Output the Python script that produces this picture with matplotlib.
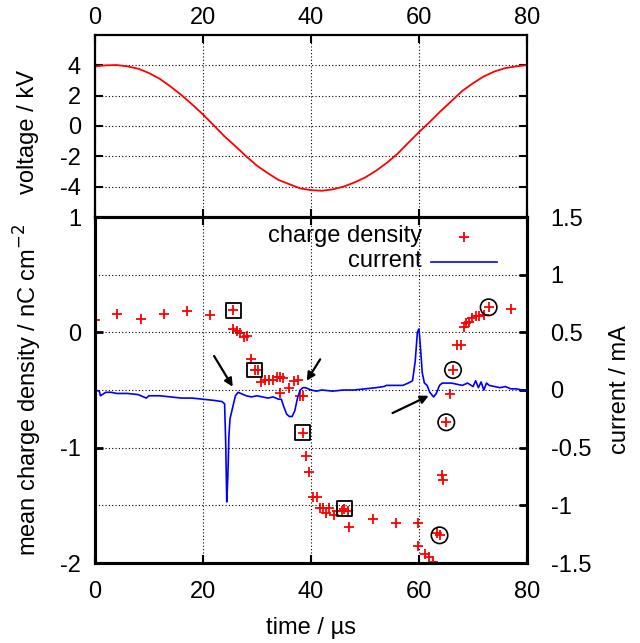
import matplotlib
matplotlib.use("Agg")
import matplotlib.pyplot as plt
from matplotlib.lines import Line2D

plt.rcParams['font.family'] = ['Liberation Sans', 'DejaVu Sans']
plt.rcParams['axes.unicode_minus'] = False
FS = 17

# ---------------- data ----------------
volt_t = [0, 2, 4, 6, 8, 10, 12, 14, 16, 18, 20, 22, 24, 26, 28, 30, 32, 34, 36, 38, 40,
          42, 44, 46, 48, 50, 52, 54, 56, 58, 60, 62, 64, 66, 68, 70, 72, 74, 76, 78, 80]
volt_v = [3.93, 4.00, 4.02, 3.93, 3.78, 3.49, 3.11, 2.60, 2.04, 1.42, 0.76, 0.04, -0.69,
          -1.33, -2.00, -2.62, -3.11, -3.56, -3.84, -4.11, -4.23,
          -4.27, -4.18, -4.00, -3.73, -3.40, -2.96, -2.44, -1.84, -1.11, -0.40, 0.27, 0.98,
          1.64, 2.31, 2.82, 3.27, 3.60, 3.82, 3.93, 4.02]

cur_t = [0, 0.8, 1.0, 2, 3, 4, 6, 8, 9.5, 10, 12, 14, 16, 18, 20, 22, 23.5, 24.0, 24.2, 24.4,
         24.6, 24.8, 25.0, 25.5, 26.0, 26.5, 27, 28, 29, 30, 31, 32, 33, 34, 34.5, 35, 35.5,
         36, 36.5, 37, 37.5, 38, 38.5, 39, 40, 41, 42, 44, 46, 48, 50, 52, 53.5, 54, 56, 57,
         58, 58.8, 59.3, 59.7, 60.0, 60.3, 60.6, 61.0, 61.5, 62.0, 62.7, 63.2, 63.8, 64.3,
         65, 66, 67, 68, 69, 70, 70.5, 71, 71.5, 72, 72.5, 73, 74, 75, 76, 77, 78, 79, 80]
cur_i = [0.00, -0.01, -0.05, -0.02, -0.02, -0.03, -0.03, -0.04, -0.07, -0.05, -0.05, -0.06,
         -0.07, -0.07, -0.08, -0.09, -0.10, -0.12, -0.45, -0.97,
         -0.75, -0.40, -0.25, -0.15, -0.05, -0.02, -0.03, -0.05, -0.06, -0.05, -0.06, -0.07,
         -0.06, -0.08, -0.08, -0.15, -0.21,
         -0.23, -0.23, -0.18, -0.07, 0.00, 0.02, 0.02, 0.00, -0.01, 0.00, -0.01, 0.00, 0.00,
         0.01, 0.02, 0.03, 0.04, 0.04, 0.04,
         0.06, 0.08, 0.25, 0.50, 0.53, 0.35, 0.15, 0.06, 0.04, -0.02, -0.06, -0.03, 0.04, 0.06,
         0.06, 0.06, 0.05, 0.04, 0.06, 0.03, 0.08, 0.02, 0.07, 0.00, 0.06, 0.04, 0.03, 0.02,
         0.03, 0.01, 0.01, 0.00, -0.01]

q_t = [0.0, 4.1, 8.5, 12.8, 17.0, 21.3, 25.6, 25.6, 26.3, 26.9, 27.6, 28.1, 28.9, 29.7, 30.1,
       30.8, 31.5, 32.2, 32.9, 33.7, 34.3, 34.9, 34.2, 36.0, 36.8, 37.5, 37.9, 38.5, 38.5,
       39.1, 39.7, 40.4, 41.1, 41.7, 42.3, 42.8, 43.4, 44.2, 44.9, 45.7, 46.2, 46.9, 47.1,
       51.4, 55.7, 59.9, 59.9, 61.2, 61.8, 62.5, 63.3, 63.9, 64.3, 64.5, 65.0, 65.7, 66.3,
       67.0, 67.8, 68.3, 68.7, 69.2, 69.8, 70.6, 71.2, 72.0, 72.9, 77.0]
q_v = [0.107, 0.156, 0.113, 0.156, 0.185, 0.15, 0.193, 0.03, 0.01, -0.01, -0.04, -0.03, -0.23,
       -0.33, -0.33, -0.43, -0.41, -0.41, -0.41, -0.39, -0.385, -0.40, -0.53, -0.48, -0.42,
       -0.41, -0.55, -0.55, -0.87, -1.07, -1.21, -1.43, -1.43, -1.52, -1.52, -1.57, -1.52,
       -1.58, -1.55, -1.55, -1.53, -1.55, -1.69, -1.62, -1.65, -1.65, -1.85, -1.92, -1.95,
       -1.99, -1.74, -1.76, -1.24, -1.28, -0.78, -0.535, -0.33, -0.11, -0.11, 0.05, 0.08,
       0.09, 0.12, 0.14, 0.145, 0.15, 0.22, 0.20]

box_t = [25.6, 29.5, 38.5, 46.2]
box_q = [0.193, -0.327, -0.867, -1.527]
circ_t = [72.9, 66.3, 65.05, 63.8]
circ_q = [0.217, -0.327, -0.78, -1.76]

arrow_start = [(22.05, -0.205), (41.7, -0.234), (55.1, -0.70)]
arrow_end = [(25.5, -0.472), (39.2, -0.42), (61.8, -0.55)]

x_ticks = [0, 20, 40, 60, 80]
v_ticks = [-4, -2, 0, 2, 4]
q_ticks = [1, 0, -1, -2]
i_ticks = [-1.5, -1, -0.5, 0, 0.5, 1, 1.5]
i_labels = ['-1.5', '-1', '-0.5', '0', '0.5', '1', '1.5']

# ---------------- figure ----------------
W, H = 640, 643
fig = plt.figure(figsize=(W / 100, H / 100), dpi=100)

def rect(l, t, r, b):
    return [l / W, 1 - b / H, (r - l) / W, (b - t) / H]

ax_v = fig.add_axes(rect(95, 35, 527, 217))
ax_q = fig.add_axes(rect(95, 217, 527, 563))
ax_i = ax_q.twinx()

grid_kw = dict(color='black', linestyle=(0, (1, 2)), linewidth=0.8)

# voltage panel
ax_v.plot(volt_t, volt_v, color='#ff0000', lw=1.3)
ax_v.set_xlim(0, 80)
ax_v.set_ylim(-6, 6)
ax_v.set_xticks(x_ticks)
ax_v.set_yticks(v_ticks)
ax_v.grid(True, **grid_kw)
ax_v.xaxis.tick_top()
ax_v.tick_params(axis='x', which='both', direction='in', top=True, bottom=True,
                 labeltop=True, labelbottom=False, length=6, width=1.5, labelsize=FS, pad=4)
ax_v.tick_params(axis='y', direction='in', left=True, right=True, length=6, width=1.5,
                 labelsize=FS, pad=10)
for s in ax_v.spines.values():
    s.set_linewidth(1.6)
ax_v.spines['bottom'].set_linewidth(2.2)

# lower panel: charge density (left)
ax_q.set_xlim(0, 80)
ax_q.set_ylim(-2, 1)
ax_q.set_xticks(x_ticks)
ax_q.set_yticks(q_ticks)
ax_q.xaxis.grid(True, **grid_kw)
ax_q.scatter(q_t, q_v, marker='+', color='#ff0000', s=45, linewidths=1.3, zorder=3)
ax_q.scatter(box_t, box_q, marker='s', facecolors='none', edgecolors='black', s=115,
             linewidths=1.3, zorder=4)
ax_q.scatter(circ_t, circ_q, marker='o', facecolors='none', edgecolors='black', s=140,
             linewidths=1.2, zorder=4)
for (x0, y0), (x1, y1) in zip(arrow_start, arrow_end):
    ax_q.annotate('', xy=(x1, y1), xytext=(x0, y0),
                  arrowprops=dict(arrowstyle='-|>', color='black', lw=1.6,
                                  mutation_scale=12, shrinkA=0, shrinkB=0), zorder=5)
ax_q.tick_params(axis='x', which='both', direction='in', top=True, bottom=True,
                 length=6, width=1.5, labelsize=FS, pad=13)
ax_q.tick_params(axis='y', direction='in', left=True, right=False, length=6, width=2,
                 labelsize=FS, pad=10)
for s in ax_q.spines.values():
    s.set_linewidth(2.2)

# current (right)
ax_i.plot(cur_t, cur_i, color='#0000ff', lw=1.2, zorder=2)
ax_i.set_ylim(-1.5, 1.5)
ax_i.set_yticks(i_ticks)
ax_i.set_yticklabels(i_labels)
ax_i.yaxis.grid(True, **grid_kw)
ax_i.tick_params(axis='y', direction='in', right=True, length=6, width=2,
                 labelsize=FS, pad=17)
for s in ax_i.spines.values():
    s.set_linewidth(2.2)

# legend (gnuplot style, right-justified text)
ax_q.text(0.757, 0.944, 'charge density', transform=ax_q.transAxes, ha='right',
          va='center', fontsize=FS)
ax_q.add_line(Line2D([0.854], [0.942], transform=ax_q.transAxes, marker='+',
                     color='#ff0000', markersize=7, mew=1.3, linestyle='none'))
ax_q.text(0.757, 0.872, 'current', transform=ax_q.transAxes, ha='right',
          va='center', fontsize=FS)
ax_q.add_line(Line2D([0.778, 0.931], [0.870, 0.870], transform=ax_q.transAxes,
                     color='#0000ff', lw=1.2))

# axis labels
fig.text(28 / W, 1 - 132 / H, 'voltage / kV', rotation=90, ha='center', va='center',
         fontsize=FS)
fig.text(28 / W, 1 - 390 / H, 'mean charge density / nC cm$^{-2}$', rotation=90,
         ha='center', va='center', fontsize=FS)
fig.text(620 / W, 1 - 390 / H, 'current / mA', rotation=90, ha='center', va='center',
         fontsize=FS)
fig.text(311 / W, 1 - 628 / H, 'time / µs', ha='center', va='center', fontsize=FS)

fig.savefig('out.png', dpi=100)
